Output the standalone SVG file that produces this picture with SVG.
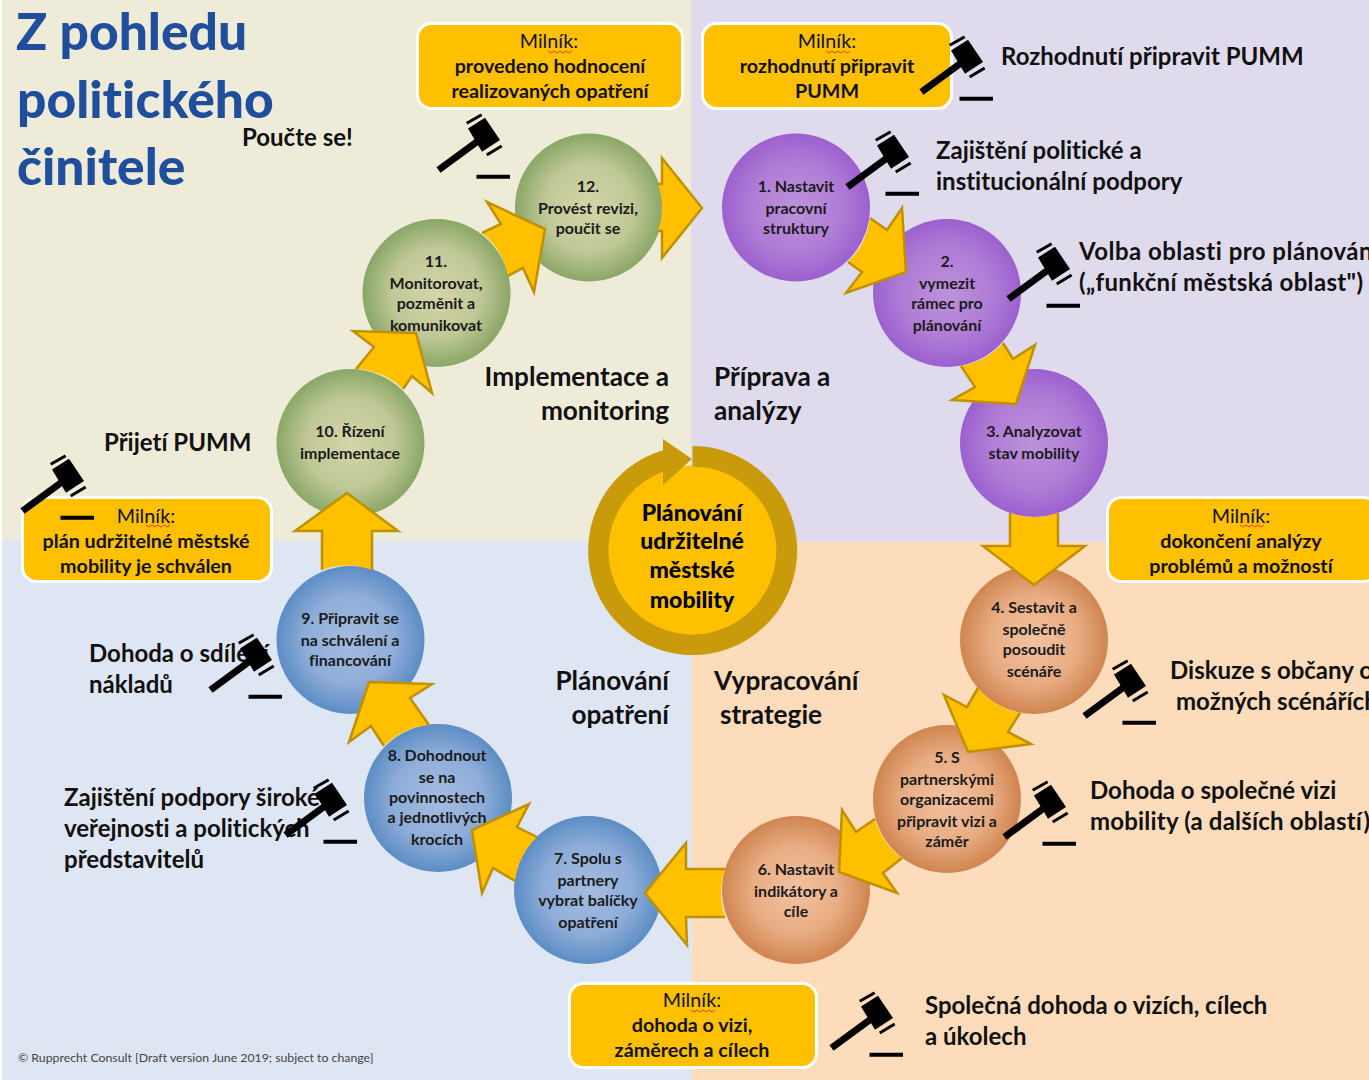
<svg xmlns="http://www.w3.org/2000/svg" width="1369" height="1080" viewBox="0 0 1369 1080">
<style>
text{font-family:"Lato","Liberation Sans",sans-serif;fill:#111;font-variant-ligatures:none}
.n text{font-size:16px;font-weight:700;text-anchor:middle;fill:#1b1b1b}
.l{font-size:24px;font-weight:700}
.q{font-size:26.2px;font-weight:700}
.r{text-anchor:end}
.t{font-size:51.5px;font-weight:900;fill:#1F4E9D}
.b{fill:#FFC000;stroke:#fff;stroke-width:3}
.m text{font-size:19.7px;font-weight:700;text-anchor:middle}
.m text.h{font-weight:400}
.c{font-size:23px;font-weight:900;text-anchor:middle;fill:#000}
.af{fill:#FFC000;stroke:none}
.as{fill:none;stroke:#BF9000;stroke-width:2.5;stroke-linejoin:miter}
</style>
<defs>
<radialGradient id="gP"><stop offset="0" stop-color="#BC92DB"/><stop offset="0.6" stop-color="#B07DD6"/><stop offset="1" stop-color="#9C60CE"/></radialGradient>
<radialGradient id="gO"><stop offset="0" stop-color="#F2C3A2"/><stop offset="0.6" stop-color="#E8AC83"/><stop offset="1" stop-color="#D08550"/></radialGradient>
<radialGradient id="gB"><stop offset="0" stop-color="#A5BCE0"/><stop offset="0.6" stop-color="#8FADD9"/><stop offset="1" stop-color="#5C8DC4"/></radialGradient>
<radialGradient id="gG"><stop offset="0" stop-color="#D4D5A9"/><stop offset="0.6" stop-color="#C0C897"/><stop offset="1" stop-color="#8AA766"/></radialGradient>
<g id="gavel">
<path d="M2.500 57L42 28" fill="none" stroke="#000" stroke-width="7"/>
<polygon points="32,15.500 49,4.700 64,27 46,38.700" fill="#000"/>
<path d="M30.700 10.300L45.700 1.700M50.700 42L65.700 33" fill="none" stroke="#000" stroke-width="3"/>
<path d="M40.500 63.700H74" fill="none" stroke="#000" stroke-width="4"/>
</g>
<path id="sq" d="M0 0l3 2l3-2l3 2l3-2l3 2l3-2l3 2l3-2" fill="none" stroke="#E0443A" stroke-width="1"/>
</defs>

<g id="background">
<rect width="1369" height="1080" fill="#fff"/>
<rect x="2" y="0" width="689" height="541" fill="#EEECD8"/>
<rect x="691" y="0" width="678" height="542" fill="#DFDBEC"/>
<rect x="2" y="541" width="690" height="539" fill="#DFE6F3"/>
<rect x="692" y="542" width="677" height="538" fill="#FDDCBC"/>
</g>

<g id="title">
<text class="t" x="16" y="50">Z pohledu</text>
<text class="t" x="17" y="118">politického</text>
<text class="t" x="17" y="185">činitele</text>
</g>

<g id="labels">
<text class="l" x="242" y="146">Poučte se!</text>
<text class="l" x="1001" y="65">Rozhodnutí připravit PUMM</text>
<text class="l" x="936" y="159">Zajištění politické a</text>
<text class="l" x="936" y="190">institucionální podpory</text>
<text class="l" x="1079" y="260" textLength="300" lengthAdjust="spacing">Volba oblasti pro plánování</text>
<text class="l" x="1079" y="291" textLength="284" lengthAdjust="spacing">(„funkční městská oblast")</text>
<text class="q" x="714" y="386">Příprava a</text>
<text class="q" x="714" y="420">analýzy</text>
<text class="q r" x="669" y="386">Implementace a</text>
<text class="q r" x="669" y="420">monitoring</text>
<text class="l" x="104" y="451">Přijetí PUMM</text>
<text class="q r" x="669" y="690">Plánování</text>
<text class="q r" x="669" y="724">opatření</text>
<text class="q" x="714" y="690">Vypracování</text>
<text class="q" x="720" y="724">strategie</text>
<text class="l" x="89" y="662">Dohoda o sdílení</text>
<text class="l" x="89" y="693">nákladů</text>
<text class="l" x="64" y="806">Zajištění podpory široké</text>
<text class="l" x="64" y="837">veřejnosti a politických</text>
<text class="l" x="64" y="868">představitelů</text>
<text class="l" x="1170" y="679">Diskuze s občany o</text>
<text class="l" x="1176" y="710">možných scénářích</text>
<text class="l" x="1090" y="799">Dohoda o společné vizi</text>
<text class="l" x="1090" y="830" textLength="280" lengthAdjust="spacing">mobility (a dalších oblastí)</text>
<text class="l" x="925" y="1014">Společná dohoda o vizích, cílech</text>
<text class="l" x="925" y="1045">a úkolech</text>
<text x="18" y="1062" font-size="12.300" style="fill:#444">© Rupprecht Consult [Draft version June 2019; subject to change]</text>
</g>

<g id="center">
<circle cx="692.500" cy="550.500" r="85" fill="#FFC000"/>
<path d="M692.500 446A104.500 104.500 0 1 1 663 450.300L663 439L692 459L663 485L663 471.800A84 84 0 1 0 692.500 466.500Z" fill="#C99A0A"/>
<text class="c" x="692" y="521">Plánování</text>
<text class="c" x="692" y="549">udržitelné</text>
<text class="c" x="692" y="578">městské</text>
<text class="c" x="692" y="608">mobility</text>
</g>

<g id="node1" class="n"><circle cx="796" cy="207.500" r="74" fill="url(#gP)"/><text x="796" y="192">1. Nastavit</text><text x="796" y="214">pracovní</text><text x="796" y="234">struktury</text></g>
<g id="node2" class="n"><circle cx="947" cy="293" r="74" fill="url(#gP)"/><text x="947" y="267">2.</text><text x="947" y="289">vymezit</text><text x="947" y="309">rámec pro</text><text x="947" y="331">plánování</text></g>
<g id="node3" class="n"><circle cx="1034" cy="443" r="74" fill="url(#gP)"/><text x="1034" y="437">3. Analyzovat</text><text x="1034" y="459">stav mobility</text></g>
<g id="node4" class="n"><circle cx="1034" cy="640" r="74" fill="url(#gO)"/><text x="1034" y="613">4. Sestavit a</text><text x="1034" y="635">společně</text><text x="1034" y="655">posoudit</text><text x="1034" y="677">scénáře</text></g>
<g id="node5" class="n"><circle cx="947" cy="799" r="74" fill="url(#gO)"/><text x="947" y="763">5. S</text><text x="947" y="785">partnerskými</text><text x="947" y="805">organizacemi</text><text x="947" y="827">připravit vizi a</text><text x="947" y="847">záměr</text></g>
<g id="node6" class="n"><circle cx="796" cy="890" r="74" fill="url(#gO)"/><text x="796" y="875">6. Nastavit</text><text x="796" y="897">indikátory a</text><text x="796" y="917">cíle</text></g>
<g id="node7" class="n"><circle cx="588" cy="890" r="74" fill="url(#gB)"/><text x="588" y="864">7. Spolu s</text><text x="588" y="886">partnery</text><text x="588" y="906">vybrat balíčky</text><text x="588" y="928">opatření</text></g>
<g id="node8" class="n"><circle cx="438" cy="798" r="74" fill="url(#gB)"/><text x="437" y="761">8. Dohodnout</text><text x="437" y="783">se na</text><text x="437" y="803">povinnostech</text><text x="437" y="823">a jednotlivých</text><text x="437" y="845">krocích</text></g>
<g id="node9" class="n"><circle cx="350.500" cy="640" r="74" fill="url(#gB)"/><text x="350" y="624">9. Připravit se</text><text x="350" y="646">na schválení a</text><text x="350" y="666">financování</text></g>
<g id="node10" class="n"><circle cx="350.500" cy="443" r="74" fill="url(#gG)"/><text x="350" y="437">10. Řízení</text><text x="350" y="459">implementace</text></g>
<g id="node11" class="n"><circle cx="436.500" cy="293" r="74" fill="url(#gG)"/><text x="436" y="267">11.</text><text x="436" y="289">Monitorovat,</text><text x="436" y="309">pozměnit a</text><text x="436" y="331">komunikovat</text></g>
<g id="node12" class="n"><circle cx="589" cy="207.500" r="74" fill="url(#gG)"/><text x="588" y="192">12.</text><text x="588" y="214">Provést revizi,</text><text x="588" y="234">poučit se</text></g>

<g id="connectors">
<path class="af" d="M870 218L887 230L902 208L906 272L846 293L862 272L848 262A74 74 0 0 0 870 218Z"/><path class="as" d="M870 218L887 230L902 208L906 272L846 293L862 272L848 262"/>
<path class="af" d="M1003 343L1013 359L1035 345L1016 404L952 400L975 387L961 366A74 74 0 0 0 1003 343Z"/><path class="as" d="M1003 343L1013 359L1035 345L1016 404L952 400L975 387L961 366"/>
<path class="af" d="M1058 513L1058 546L1085 546L1034 585L983 546L1010 546L1010 513A74 74 0 0 0 1058 513Z"/><path class="as" d="M1058 513L1058 546L1085 546L1034 585L983 546L1010 546L1010 513"/>
<path class="af" d="M1020 713L1008 732L1031 744L968 752L944 695L967 707L978 688A74 74 0 0 0 1020 713Z"/><path class="as" d="M1020 713L1008 732L1031 744L968 752L944 695L967 707L978 688"/>
<path class="af" d="M902 858L883 873L897 893L839 872L842 810L856 832L875 819A74 74 0 0 0 902 858Z"/><path class="as" d="M902 858L883 873L897 893L839 872L842 810L856 832L875 819"/>
<path class="af" d="M725 917L686 917L687 945L645 893L686 843L686 869L725 869A74 74 0 0 0 725 917Z"/><path class="as" d="M725 917L686 917L687 945L645 893L686 843L686 869L725 869"/>
<path class="af" d="M515 881L493 868L482 893L472 830L529 804L517 827L537 837A74 74 0 0 0 515 881Z"/><path class="as" d="M515 881L493 868L482 893L472 830L529 804L517 827L537 837"/>
<path class="af" d="M384 746L371 726L349 742L369 682L432 684L410 698L429 725A74 74 0 0 0 384 746Z"/><path class="as" d="M384 746L371 726L349 742L369 682L432 684L410 698L429 725"/>
<path class="af" d="M322 570L322 531L295 531L347 493L398 531L372 531L372 570A74 74 0 0 0 322 570Z"/><path class="as" d="M322 570L322 531L295 531L347 493L398 531L372 531L372 570"/>
<path class="af" d="M356 369L374 347L353 331L416 333L432 393L412 376L403 389A74 74 0 0 0 356 369Z"/><path class="as" d="M356 369L374 347L353 331L416 333L432 393L412 376L403 389"/>
<path class="af" d="M482 233L501 224L487 202L545 229L534 292L523 268L508 276A74 74 0 0 0 482 233Z"/><path class="as" d="M482 233L501 224L487 202L545 229L534 292L523 268L508 276"/>
<path class="af" d="M658 184L662 184L662 158L702 208L662 258L662 231L658 231A74 74 0 0 0 658 184Z"/><path class="as" d="M658 184L662 184L662 158L702 208L662 258L662 231L658 231"/>
</g>

<g id="milestone-review" class="m"><rect class="b" x="417.500" y="23.500" width="265" height="85" rx="14"/><text class="h" x="549" y="48">Milník:</text><use href="#sq" x="548" y="51"/><text x="550" y="73">provedeno hodnocení</text><text x="550" y="98">realizovaných opatření</text></g>
<g id="milestone-decision" class="m"><rect class="b" x="702.500" y="23.500" width="249" height="85" rx="14"/><text class="h" x="827" y="48">Milník:</text><use href="#sq" x="826" y="51"/><text x="827" y="73">rozhodnutí připravit</text><text x="827" y="98">PUMM</text></g>
<g id="milestone-adopted" class="m"><rect class="b" x="22.500" y="497.500" width="249" height="84" rx="14"/><text class="h" x="146" y="523">Milník:</text><use href="#sq" x="146" y="525"/><text x="146" y="548">plán udržitelné městské</text><text x="146" y="573">mobility je schválen</text></g>
<g id="milestone-analysis" class="m"><rect class="b" x="1107.500" y="497.500" width="270" height="84" rx="14"/><text class="h" x="1241" y="523">Milník:</text><use href="#sq" x="1240" y="525"/><text x="1241" y="548">dokončení analýzy</text><text x="1241" y="573">problémů a možností</text></g>
<g id="milestone-vision" class="m"><rect class="b" x="569.500" y="983.500" width="247" height="84" rx="14"/><text class="h" x="692" y="1007">Milník:</text><use href="#sq" x="691" y="1010"/><text x="692" y="1032">dohoda o vizi,</text><text x="692" y="1057">záměrech a cílech</text></g>

<g id="gavels">
<use href="#gavel" x="436" y="113"/>
<use href="#gavel" x="919" y="35"/>
<use href="#gavel" x="845" y="130"/>
<use href="#gavel" x="1006" y="242"/>
<use href="#gavel" x="1082" y="659"/>
<use href="#gavel" x="1002" y="780"/>
<use href="#gavel" x="829" y="991"/>
<use href="#gavel" x="208" y="633"/>
<use href="#gavel" x="283" y="778"/>
<use href="#gavel" x="20" y="454"/>
</g>
</svg>
